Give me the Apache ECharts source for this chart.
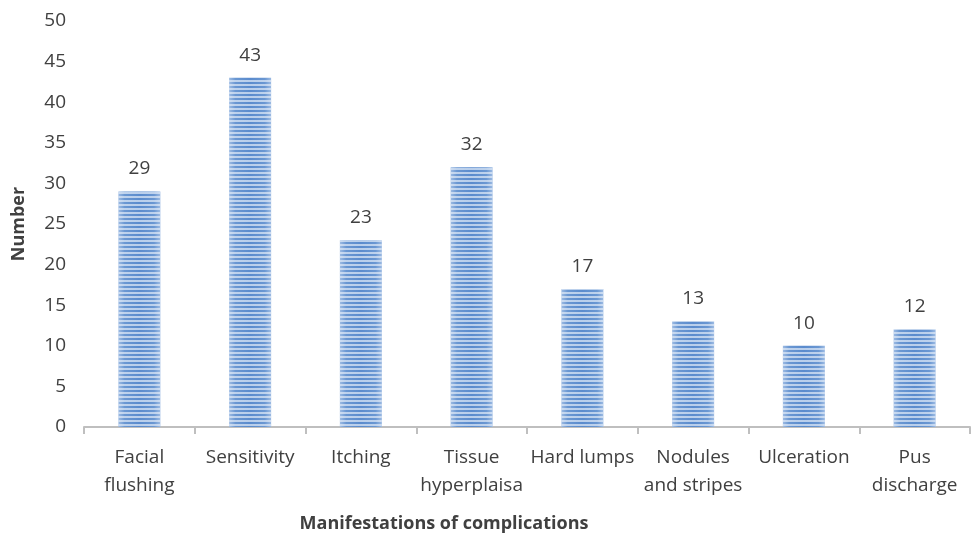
<!DOCTYPE html>
<html>
<head>
<meta charset="utf-8">
<script src="https://cdn.jsdelivr.net/npm/echarts@6/dist/echarts.min.js"></script>
<style>
  html, body { margin: 0; padding: 0; background: #fff; }
  #container { width: 974px; height: 538px; }
</style>
</head>
<body>
<div id="container"></div>
<script>
var categories = ['Facial\nflushing', 'Sensitivity', 'Itching', 'Tissue\nhyperplaisa', 'Hard lumps', 'Nodules\nand stripes', 'Ulceration', 'Pus\ndischarge'];
var counts = [29, 43, 23, 32, 17, 13, 10, 12];

var font = '"Open Sans", sans-serif';
var dom = document.getElementById('container');
var myChart = echarts.init(dom);

// blue fill, lighter towards the edges, with thin light stripes on top
var barFill = new echarts.graphic.LinearGradient(0, 0, 1, 0, [
    {offset: 0, color: '#9dbbe3'},
    {offset: 0.15, color: '#6a97d2'},
    {offset: 0.5, color: '#5a8bcd'},
    {offset: 0.85, color: '#6a97d2'},
    {offset: 1, color: '#9dbbe3'}
]);

var option = {
    animation: false,
    grid: { left: 84, right: 4, top: 21, bottom: 111, outerBoundsMode: 'none' },
    xAxis: {
        type: 'category',
        data: categories,
        name: 'Manifestations of complications',
        nameLocation: 'middle',
        nameGap: 88,
        nameTextStyle: { fontFamily: font, fontSize: 18, fontWeight: 'bold', color: '#404040', padding: [0, 166, 0, 0] },
        axisLine: { lineStyle: { color: '#bfbfbf', width: 2 } },
        axisTick: { show: true, length: 7, lineStyle: { color: '#bfbfbf', width: 2 } },
        axisLabel: { fontFamily: font, fontSize: 19, color: '#404040', margin: 17, lineHeight: 28, interval: 0 }
    },
    yAxis: {
        type: 'value',
        min: 0,
        max: 50,
        interval: 5,
        name: 'Number',
        nameLocation: 'middle',
        nameGap: 56,
        nameTextStyle: { fontFamily: font, fontSize: 18, fontWeight: 'bold', color: '#404040' },
        axisLine: { show: false },
        axisTick: { show: false },
        splitLine: { show: false },
        axisLabel: { fontFamily: font, fontSize: 19, color: '#404040', margin: 18 }
    },
    series: [{
        type: 'bar',
        data: counts,
        barWidth: 42,
        itemStyle: {
            color: barFill,
            decal: {
                symbol: 'rect',
                symbolSize: 1,
                dashArrayX: [1, 0],
                dashArrayY: [2, 2],
                rotation: 0,
                color: 'rgba(225,235,248,0.7)'
            }
        },
        label: {
            show: true,
            position: 'top',
            distance: 13,
            fontFamily: font,
            fontSize: 19,
            color: '#404040'
        }
    }]
};

myChart.setOption(option);
</script>
</body>
</html>
